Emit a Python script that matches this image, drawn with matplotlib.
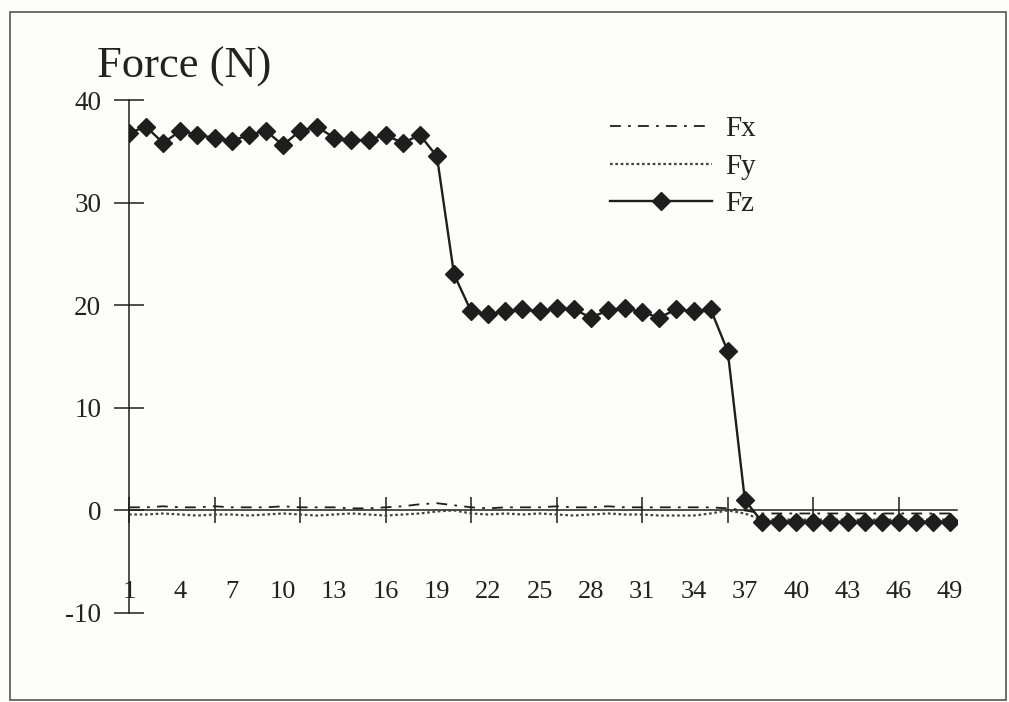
import matplotlib
matplotlib.use("Agg")
import matplotlib.pyplot as plt
from matplotlib.patches import Rectangle

# Sample index (1..49)
samples = list(range(1, 50))

# Force components in newtons
fz = [36.8, 37.4, 35.8, 37.0, 36.6, 36.3, 36.0, 36.6, 37.0, 35.6,
      37.0, 37.4, 36.3, 36.1, 36.1, 36.6, 35.8, 36.6, 34.5, 23.0,
      19.4, 19.1, 19.4, 19.6, 19.4, 19.7, 19.6, 18.8, 19.5, 19.7,
      19.3, 18.8, 19.6, 19.4, 19.6, 15.5, 1.0, -1.1, -1.1, -1.1,
      -1.1, -1.1, -1.1, -1.1, -1.1, -1.1, -1.1, -1.1, -1.1]
fx = [0.3, 0.3, 0.4, 0.3, 0.3, 0.4, 0.3, 0.3, 0.3, 0.4,
      0.3, 0.3, 0.3, 0.2, 0.2, 0.3, 0.4, 0.6, 0.7, 0.5,
      0.3, 0.2, 0.3, 0.3, 0.3, 0.4, 0.3, 0.3, 0.4, 0.3,
      0.3, 0.3, 0.3, 0.3, 0.3, 0.2, 0.0, -0.3, -0.3, -0.3,
      -0.3, -0.3, -0.3, -0.3, -0.3, -0.3, -0.3, -0.3, -0.3]
fy = [-0.4, -0.4, -0.3, -0.4, -0.5, -0.4, -0.4, -0.5, -0.4, -0.3,
      -0.4, -0.5, -0.4, -0.3, -0.4, -0.5, -0.4, -0.3, -0.1, 0.0,
      -0.3, -0.4, -0.3, -0.4, -0.3, -0.4, -0.5, -0.4, -0.3, -0.4,
      -0.4, -0.5, -0.5, -0.5, -0.3, 0.0, -0.3, -0.9, -0.9, -0.9,
      -0.9, -0.9, -0.9, -0.9, -0.9, -0.9, -0.9, -0.9, -0.9]

x_labels = list(range(1, 50, 3))
x_ticks = list(range(1, 50, 5))
y_ticks = [-10, 0, 10, 20, 30, 40]

plt.rcParams["font.family"] = ["Liberation Serif", "DejaVu Serif"]
ink = "#1e1e1e"
text_ink = "#222222"

W, H = 1009, 702
fig = plt.figure(figsize=(W / 100, H / 100), dpi=100)
fig.patch.set_facecolor("#fdfdfb")

# thin page frame
fig.patches.append(Rectangle((10 / W, 2 / H), (1006 - 10) / W, (695 - 7) / H,
                             transform=fig.transFigure, fill=False,
                             edgecolor="#555555", linewidth=1.2))

left, right = 129 / W, 957 / W
bottom, top = 1 - 613 / H, 1 - 100 / H
ax = fig.add_axes([left, bottom, right - left, top - bottom])
ax.set_facecolor("none")
ax.set_xlim(1, 49.4)
ax.set_ylim(-10, 40)

ax.plot(samples, fx, color=ink, linewidth=1.3, linestyle=(0, (6, 4, 1.5, 4)),
        label="Fx", zorder=3)
ax.plot(samples, fy, color="#444444", linewidth=1.6, linestyle=(0, (1.2, 1.2)),
        label="Fy", zorder=3)
ax.plot(samples, fz, color=ink, linewidth=1.7, marker="D", markersize=9,
        markerfacecolor=ink, markeredgecolor=ink, label="Fz", zorder=4)

# axes: vertical at the first sample, horizontal at zero force
for side in ("top", "right"):
    ax.spines[side].set_visible(False)
ax.spines["bottom"].set_position(("data", 0))
for side in ("left", "bottom"):
    ax.spines[side].set_color(ink)
    ax.spines[side].set_linewidth(1.1)

ax.set_yticks(y_ticks)
ax.set_yticklabels([str(v) for v in y_ticks])
ax.tick_params(axis="y", direction="inout", length=22, width=1.1,
               color=ink, labelsize=19.5, pad=9, labelcolor=text_ink)
ax.set_xticks(x_ticks)
ax.set_xticklabels([])
ax.tick_params(axis="x", direction="inout", length=19, width=1.1, color=ink)

# category labels sit low, near the bottom of the value range
for v in x_labels:
    ax.text(v, -8.0, str(v), ha="center", va="center", fontsize=19,
            color=text_ink)

fig.text(97 / W, 1 - 78 / H, "Force (N)", fontsize=32, color=text_ink,
         ha="left", va="baseline")

leg = ax.legend(loc="upper left", bbox_to_anchor=(610 / W, 1 - 116 / H),
                bbox_transform=fig.transFigure, frameon=False, fontsize=21,
                handlelength=3.5, handletextpad=0.45, labelspacing=0.38,
                borderaxespad=0, borderpad=0)
for t in leg.get_texts():
    t.set_color(text_ink)

fig.savefig("out.png", dpi=100, facecolor=fig.get_facecolor())
